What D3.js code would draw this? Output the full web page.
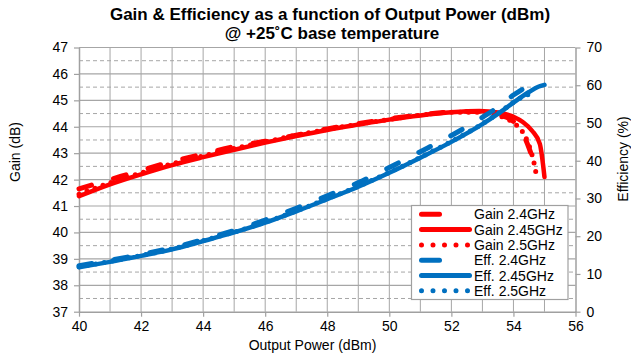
<!DOCTYPE html>
<html>
<head>
<meta charset="utf-8">
<script src="https://cdn.jsdelivr.net/npm/d3@7/dist/d3.min.js"></script>
<style>
  body { margin: 0; background: #fff; }
  text { font-family: "Liberation Sans", Arial, sans-serif; fill: #000; }
</style>
</head>
<body>
<svg id="chart" width="631" height="356"></svg>
<script>
// ---- data ----
const powerTicks = [40, 42, 44, 46, 48, 50, 52, 54, 56];
const gainTicks = [37, 38, 39, 40, 41, 42, 43, 44, 45, 46, 47];
const effTicks = [0, 10, 20, 30, 40, 50, 60, 70];

// Gain (dB) vs output power (dBm)
const gain24Power  = [40, 41, 42, 43, 44, 45, 46, 47, 48, 49, 50, 51, 52, 53, 53.5, 54, 54.3, 54.5, 54.7];
const gain24       = [41.65, 42.0, 42.35, 42.68, 42.97, 43.25, 43.45, 43.68, 43.92, 44.12, 44.3, 44.45, 44.56, 44.58, 44.47, 44.2, 43.75, 43.2, 42.5];
const gain245Power = [40, 41, 42, 43, 44, 45, 46, 47, 48, 49, 50, 51, 52, 52.9, 53.5, 54, 54.3, 54.6, 54.85, 55];
const gain245      = [41.37, 41.82, 42.2, 42.55, 42.85, 43.13, 43.4, 43.65, 43.88, 44.08, 44.27, 44.43, 44.55, 44.6, 44.54, 44.38, 44.18, 43.85, 43.35, 42.1];
const gain25Power  = [40, 41, 42, 43, 44, 45, 46, 47, 48, 49, 50, 51, 52, 53, 53.5, 54, 54.3, 54.5, 54.65, 54.75];
const gain25       = [41.45, 41.88, 42.25, 42.6, 42.9, 43.18, 43.43, 43.68, 43.9, 44.1, 44.28, 44.44, 44.55, 44.55, 44.43, 44.15, 43.8, 43.3, 42.7, 42.1];

// Drain efficiency (%) vs output power (dBm)
const eff24Power  = [40, 41, 42, 43, 44, 45, 46, 47, 48, 49, 50, 51, 52, 53, 53.5, 54, 54.3];
const eff24       = [12.2, 13.6, 15.2, 16.9, 19.1, 21.5, 24.3, 27.4, 30.7, 34.2, 38.2, 42.4, 46.7, 51.5, 54.2, 57.4, 59.0];
const eff245Power = [40, 41, 42, 43, 44, 45, 46, 47, 48, 49, 50, 51, 52, 53, 53.5, 54, 54.5, 54.8, 55];
const eff245      = [11.8, 13.2, 14.8, 16.5, 18.7, 21.0, 23.6, 26.6, 29.8, 33.1, 36.8, 40.8, 45.0, 49.7, 52.4, 55.4, 58.2, 59.6, 60.1];
const eff25Power  = [40, 41, 42, 43, 44, 45, 46, 47, 48, 49, 50, 51, 52, 53, 53.5, 54, 54.4, 54.7];
const eff25       = [11.9, 13.3, 14.9, 16.6, 18.8, 21.1, 23.7, 26.7, 29.9, 33.2, 36.9, 40.9, 45.1, 49.8, 52.5, 55.5, 57.3, 57.8];

const seriesNames = ["Gain 2.4GHz", "Gain 2.45GHz", "Gain 2.5GHz", "Eff. 2.4GHz", "Eff. 2.45GHz", "Eff. 2.5GHz"];

// ---- layout ----
const svg = d3.select("#chart");
const plotLeft = 79, plotRight = 575.5, plotTop = 47.5, plotBottom = 311.7;
const gridColor = "#a6a6a6";
const red = "#ff0000", blue = "#0070c0";

const x = d3.scaleLinear().domain([40, 56]).range([plotLeft, plotRight]);
const yGain = d3.scaleLinear().domain([37, 47]).range([plotBottom, plotTop]);
const yEff = d3.scaleLinear().domain([0, 70]).range([plotBottom, plotTop]);

// ---- gridlines ----
const grid = svg.append("g");
grid.selectAll("line.vg").data(d3.range(41, 56)).join("line")
  .attr("x1", d => x(d)).attr("x2", d => x(d))
  .attr("y1", plotTop).attr("y2", plotBottom)
  .attr("stroke", gridColor).attr("stroke-width", 1);
grid.selectAll("line.hm").data(d3.range(37.5, 47, 1)).join("line")
  .attr("x1", plotLeft).attr("x2", plotRight)
  .attr("y1", d => yGain(d)).attr("y2", d => yGain(d))
  .attr("stroke", gridColor).attr("stroke-width", 1).attr("stroke-dasharray", "4,3");
grid.selectAll("line.hg").data(d3.range(38, 48)).join("line")
  .attr("x1", plotLeft).attr("x2", plotRight)
  .attr("y1", d => yGain(d)).attr("y2", d => yGain(d))
  .attr("stroke", gridColor).attr("stroke-width", 1.2);

// ---- axes ----
const axisStyle = g => {
  g.select(".domain").attr("stroke", "#a0a0a0").attr("stroke-width", 1.5);
  g.selectAll(".tick line").attr("stroke", "#a0a0a0").attr("stroke-width", 1.2);
  g.selectAll(".tick text").style("font-size", "14px").style("font-family", "'Liberation Sans', Arial, sans-serif");
};
svg.append("g").attr("transform", `translate(0,${plotBottom})`)
  .call(d3.axisBottom(x).tickValues(powerTicks).tickSize(5).tickSizeOuter(0).tickPadding(4))
  .call(axisStyle);
svg.append("g").attr("transform", `translate(${plotLeft},0)`)
  .call(d3.axisLeft(yGain).tickValues(gainTicks).tickSize(5).tickSizeOuter(0).tickPadding(6))
  .call(axisStyle);
svg.append("g").attr("transform", `translate(${plotRight},0)`)
  .call(d3.axisRight(yEff).tickValues(effTicks).tickSize(5).tickSizeOuter(0).tickPadding(6))
  .call(axisStyle);

// ---- series ----
const styles = {
  dash: { width: 5, dash: "13,23" },
  solid: { width: 4.5, dash: null },
  dot: { width: 5, dash: "0,8.5" }
};
const series = [
  { xs: gain24Power, ys: gain24, y: yGain, color: red, style: "dash" },
  { xs: gain245Power, ys: gain245, y: yGain, color: red, style: "solid" },
  { xs: gain25Power, ys: gain25, y: yGain, color: red, style: "dot" },
  { xs: eff24Power, ys: eff24, y: yEff, color: blue, style: "dash" },
  { xs: eff245Power, ys: eff245, y: yEff, color: blue, style: "solid" },
  { xs: eff25Power, ys: eff25, y: yEff, color: blue, style: "dot" }
];
series.forEach(s => {
  const pts = s.xs.map((p, i) => [p, s.ys[i]]);
  const line = d3.line().x(d => x(d[0])).y(d => s.y(d[1])).curve(d3.curveMonotoneX);
  svg.append("path").datum(pts)
    .attr("d", line)
    .attr("fill", "none")
    .attr("stroke", s.color)
    .attr("stroke-width", styles[s.style].width)
    .attr("stroke-linecap", "round")
    .attr("stroke-linejoin", "round")
    .attr("stroke-dasharray", styles[s.style].dash);
});

// ---- legend ----
const lg = svg.append("g");
lg.append("rect").attr("x", 411.5).attr("y", 205.5).attr("width", 156.5).attr("height", 94)
  .attr("fill", "#fff").attr("stroke", "#a0a0a0").attr("stroke-width", 1.2);
const legendStyles = {
  dash: "18,33", solid: null, dot: "0,11.5"
};
series.forEach((s, i) => {
  const cy = 214.3 + i * 15.3;
  lg.append("line").attr("x1", 421.5).attr("x2", 469.5).attr("y1", cy).attr("y2", cy)
    .attr("stroke", s.color).attr("stroke-width", 5).attr("stroke-linecap", "round")
    .attr("stroke-dasharray", legendStyles[s.style]);
  lg.append("text").attr("x", 474).attr("y", cy + 5).style("font-size", "14px").text(seriesNames[i]);
});

// ---- titles ----
svg.append("text").attr("x", 330).attr("y", 20).attr("text-anchor", "middle")
  .style("font-size", "17px").style("font-weight", "bold")
  .text("Gain & Efficiency as a function of Output Power (dBm)");
svg.append("text").attr("x", 332).attr("y", 38.5).attr("text-anchor", "middle")
  .style("font-size", "17px").style("font-weight", "bold")
  .text("@ +25˚C base temperature");
svg.append("text").attr("x", 312.5).attr("y", 349.5).attr("text-anchor", "middle")
  .style("font-size", "14px").text("Output Power (dBm)");
svg.append("text").attr("transform", "translate(20,152) rotate(-90)").attr("text-anchor", "middle")
  .style("font-size", "14px").text("Gain (dB)");
svg.append("text").attr("transform", "translate(627.5,159) rotate(-90)").attr("text-anchor", "middle")
  .style("font-size", "14px").text("Efficiency (%)");
</script>
</body>
</html>
